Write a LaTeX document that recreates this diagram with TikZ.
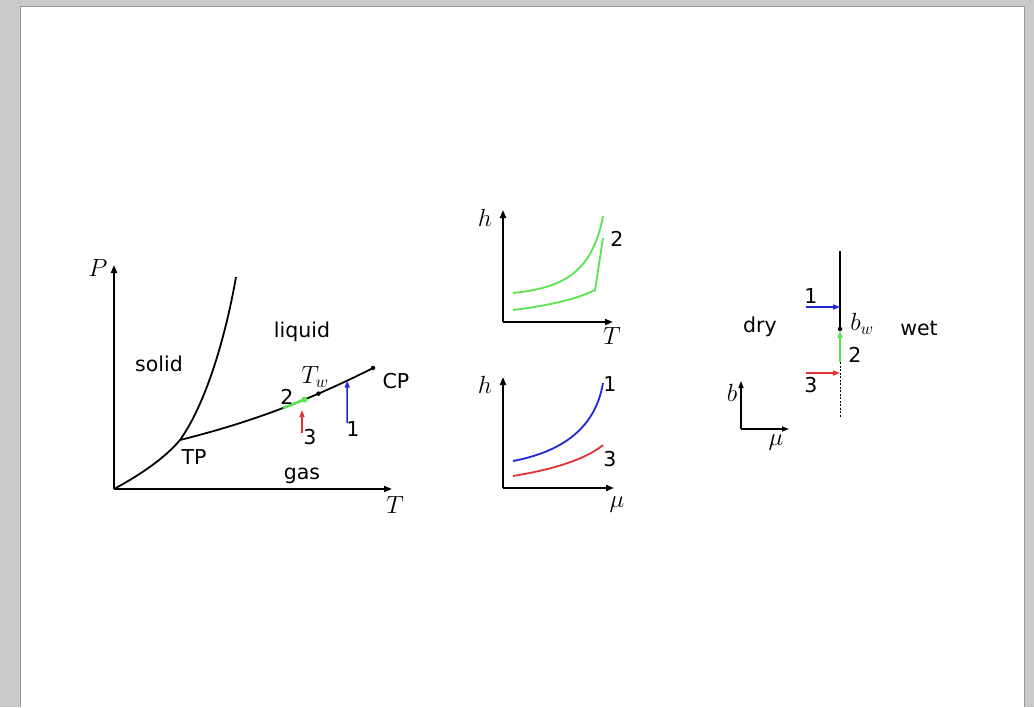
\documentclass[tikz,border=0pt]{standalone}
\usepackage{fontspec}
\setmainfont{DejaVu Sans}
\usetikzlibrary{arrows.meta}
\definecolor{pagegray}{RGB}{200,202,200}
\definecolor{edgegray}{RGB}{150,152,150}
\definecolor{lgreen}{RGB}{90,228,80}
\definecolor{mblue}{RGB}{30,40,215}
\definecolor{mred}{RGB}{228,50,50}
\begin{document}
\begin{tikzpicture}[x=1pt,y=-1pt,
  lbl/.style={inner sep=0pt,font=\fontsize{20.5}{22}\selectfont},
  mlbl/.style={inner sep=0pt,font=\fontsize{23}{25}\selectfont},
  axis/.style={line width=1.8pt,-{Triangle[length=8pt,width=6pt]}},
  smallaxis/.style={line width=1.4pt,-{Triangle[length=7pt,width=5pt]}},
  curve/.style={line width=1.8pt},
  carrow/.style={line width=1.5pt,-{Triangle[length=7pt,width=5pt]}},
  dotb/.style={circle,fill=black,inner sep=0pt,minimum size=4.5pt}]
% page frame
\fill[pagegray] (0,0) rectangle (1034,707);
\fill[white] (20,6) rectangle (1024,707);
\draw[edgegray,line width=0.8pt] (20,707) -- (20,6) -- (1024,6) -- (1024,707);
\useasboundingbox (0,0) rectangle (1034,707);

% ---------- main phase diagram ----------
\coordinate (O) at (114,489);
\coordinate (Ptip) at (114,265);
\coordinate (Ttip) at (392,489);
\coordinate (TPpt) at (180,440);
\coordinate (top) at (236,277);
\coordinate (CPpt) at (373,368);
\draw[axis] (O) -- (Ptip);
\draw[axis] (O) -- (Ttip);
\draw[curve] (O) .. controls (140,475) and (165,458) .. (TPpt)
             .. controls (205,405) and (225,340) .. (top);
\draw[curve] (TPpt) .. controls (240,425) and (300,405) .. (CPpt)
  coordinate[pos=0.67] (g2)
  coordinate[pos=0.74] (Tw)
  coordinate[pos=0.88] (bluetip);
\begin{scope}
\clip (283,380) rectangle (304.5,425);
\draw[lgreen,line width=2.6pt] (TPpt) .. controls (240,425) and (300,405) .. (CPpt);
\end{scope}
\node[circle,fill=lgreen,inner sep=0pt,minimum size=6pt] (gdot) at (g2) {};
\node[dotb] (cp) at (CPpt) {};
\node[dotb] (tw) at (Tw) {};
\node[mlbl] (Plab) at (98,268) {$P$};
\node[mlbl] (Tlab) at (395,505) {$T$};
\node[lbl] (solid) at (159,364) {solid};
\node[lbl] (liquid) at (302,332) {liquid};
\node[lbl] (TP) at (194,457) {TP};
\node[lbl] (gas) at (302,476) {gas};
\node[lbl] (CP) at (396,381) {CP};
\node[mlbl] (Twlab) at (315,377) {$T_w$};
\node[lbl] (two) at (287,397) {2};
\node[lbl] (three) at (310,437) {3};
\node[lbl] (one) at (353,429) {1};
\coordinate (bluestart) at (347,423);
\coordinate (redstart) at (302,433);
\coordinate (redtip) at (302,410);
\draw[carrow,mblue] (bluestart) -- (bluetip);
\draw[carrow,mred] (redstart) -- (redtip);

% ---------- middle top: h vs T ----------
\coordinate (O2) at (503,322);
\draw[axis] (O2) -- (503,210) coordinate (h2tip);
\draw[axis] (O2) -- (613,322) coordinate (T2tip);
\draw[lgreen,line width=1.8pt] (513,293) .. controls (560,288) and (592,275) .. (603,216);
\draw[lgreen,line width=1.8pt] (513,310) .. controls (545,306) and (575,300) .. (595,290) -- (603,238);
\node[mlbl] (h2) at (485,218) {$h$};
\node[mlbl] (T2) at (612,336) {$T$};
\node[lbl] (two2) at (617,239) {2};

% ---------- middle bottom: h vs mu ----------
\coordinate (O3) at (503,488);
\draw[axis] (O3) -- (503,377) coordinate (h3tip);
\draw[axis] (O3) -- (614,488) coordinate (m3tip);
\draw[mblue,line width=1.8pt] (513,461) .. controls (560,452) and (595,430) .. (603,383);
\draw[mred,line width=1.8pt] (513,476) .. controls (550,470) and (585,460) .. (603,445);
\node[mlbl] (h3) at (485,385) {$h$};
\node[mlbl] (m3) at (617,505) {$\mu$};
\node[lbl] (one3) at (610,384) {1};
\node[lbl] (three3) at (610,459) {3};

% ---------- right: b vs mu ----------
\coordinate (Rtop) at (840,251);
\coordinate (bw) at (840,329);
\coordinate (gstart) at (840,362);
\coordinate (Rbot) at (840,418);
\draw[line width=1.4pt] (Rtop) -- (bw);
\draw[lgreen,line width=1.6pt,-{Triangle[length=7pt,width=5pt]}] (gstart) -- (840,331);
\draw[line width=1pt,dash pattern=on 2pt off 1.5pt] (gstart) -- (Rbot);
\node[dotb,minimum size=4.5pt] (bwdot) at (bw) {};
\coordinate (b1s) at (806,307);
\coordinate (b1e) at (840,307);
\coordinate (r3s) at (806,373);
\coordinate (r3e) at (840,373);
\draw[carrow,mblue] (b1s) -- (b1e);
\draw[carrow,mred] (r3s) -- (r3e);
\node[lbl] (oneR) at (811,296) {1};
\node[lbl] (dry) at (760,327) {dry};
\node[mlbl] (bwlab) at (862,324) {$b_w$};
\node[lbl] (wet) at (919,328) {wet};
\node[lbl] (twoR) at (855,355) {2};
\node[lbl] (threeR) at (811,385) {3};
\coordinate (O4) at (741,429);
\draw[smallaxis] (O4) -- (741,381);
\draw[smallaxis] (O4) -- (789,429);
\node[mlbl] (bR) at (732,393) {$b$};
\node[mlbl] (muR) at (776,443) {$\mu$};
\end{tikzpicture}
\end{document}
